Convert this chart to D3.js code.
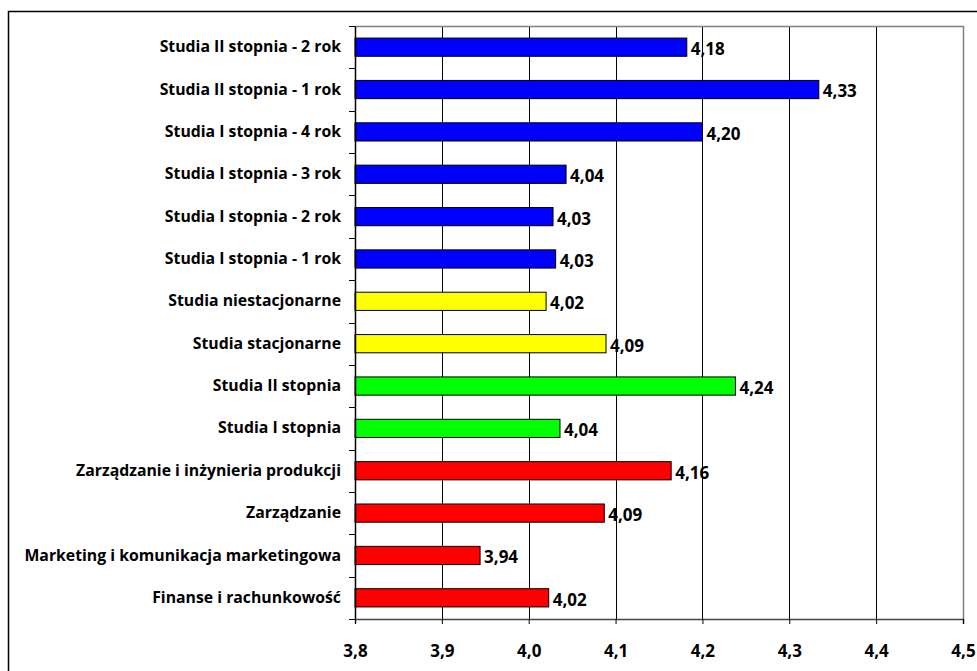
<!DOCTYPE html>
<html><head><meta charset="utf-8">
<script src="https://cdn.jsdelivr.net/npm/d3@7"></script>
<style>body{margin:0;background:#fff}svg{display:block}text{font-family:"Open Sans",sans-serif;font-weight:bold;fill:#000}</style>
</head><body>
<svg id="c" width="977" height="671"></svg>
<script>
const categories = ["Studia II stopnia - 2 rok","Studia II stopnia - 1 rok","Studia I stopnia - 4 rok","Studia I stopnia - 3 rok","Studia I stopnia - 2 rok","Studia I stopnia - 1 rok","Studia niestacjonarne","Studia stacjonarne","Studia II stopnia","Studia I stopnia","Zarządzanie i inżynieria produkcji","Zarządzanie","Marketing i komunikacja marketingowa","Finanse i rachunkowość"];
const values = [4.182,4.334,4.200,4.043,4.028,4.031,4.020,4.089,4.238,4.036,4.164,4.087,3.944,4.023];
const groups = ["rok","rok","rok","rok","rok","rok","tryb","tryb","stopien","stopien","kierunek","kierunek","kierunek","kierunek"];
const groupColors = {rok:"#0000FF", tryb:"#FFFF00", stopien:"#00FF00", kierunek:"#FF0000"};
const xTicks = [3.8,3.9,4.0,4.1,4.2,4.3,4.4,4.5];

const svg = d3.select("#c");
const L=355, R=963, T=26, B=619;
const FONT = "Open Sans";
const x = d3.scaleLinear().domain([3.8,4.5]).range([L,R]);
const y = d3.scaleBand().domain(categories).range([T,B]).paddingInner(0.57).paddingOuter(0.285);
const fmt = v => d3.format(".2f")(v).replace(".",",");
const fmt1 = v => d3.format(".1f")(v).replace(".",",");

svg.append("rect").attr("x",8.5).attr("y",11.5).attr("width",1100).attr("height",800).attr("fill","none").attr("stroke","#000").attr("stroke-width",1.5);

// gridlines
svg.append("g").selectAll("line").data(xTicks.slice(1,-1)).join("line")
  .attr("x1",d=>Math.round(x(d))+0.5).attr("x2",d=>Math.round(x(d))+0.5).attr("y1",T).attr("y2",B)
  .attr("stroke","#000").attr("stroke-width",1);
// plot border top/right
svg.append("path").attr("d",`M${L},${T+0.5}H${R+0.5}V${B}`).attr("fill","none").attr("stroke","#808080").attr("stroke-width",1.5);

// bars
svg.append("g").selectAll("rect").data(categories).join("rect")
  .attr("x",x(3.8)).attr("y",d=>y(d)).attr("width",(d,i)=>x(values[i])-x(3.8)).attr("height",y.bandwidth())
  .attr("fill",(d,i)=>groupColors[groups[i]]).attr("stroke","#000").attr("stroke-width",1);

// value labels
svg.append("g").selectAll("text").data(categories).join("text")
  .attr("x",(d,i)=>x(values[i])+4).attr("y",d=>y(d)+y.bandwidth()/2+2).attr("dy","0.35em")
  .style("font-size","17px").text((d,i)=>fmt(values[i]));

// y axis
const yAxis = d3.axisLeft(y).tickSize(0).tickPadding(14);
const yg = svg.append("g").attr("transform",`translate(${L},0)`).call(yAxis);
yg.select(".domain").attr("stroke","#000").attr("stroke-width",1.5);
yg.selectAll("text").style("font-size","15.8px");
// band boundary ticks
const bounds = categories.map(c=>y(c)-y.step()*y.paddingInner()/2).concat([B]);
svg.append("g").selectAll("line").data(bounds).join("line")
  .attr("x1",L-6).attr("x2",L).attr("y1",d=>Math.round(d)+0.5).attr("y2",d=>Math.round(d)+0.5).attr("stroke","#000");

// x axis
const xAxis = d3.axisBottom(x).tickValues(xTicks).tickFormat(fmt1).tickSize(5).tickPadding(21);
const xg = svg.append("g").attr("transform",`translate(0,${B})`).call(xAxis);
xg.select(".domain").attr("stroke","#444").attr("stroke-width",1.5);
xg.selectAll(".tick line").attr("stroke","#000");
xg.selectAll("text").style("font-size","17px");
</script>
</body></html>
